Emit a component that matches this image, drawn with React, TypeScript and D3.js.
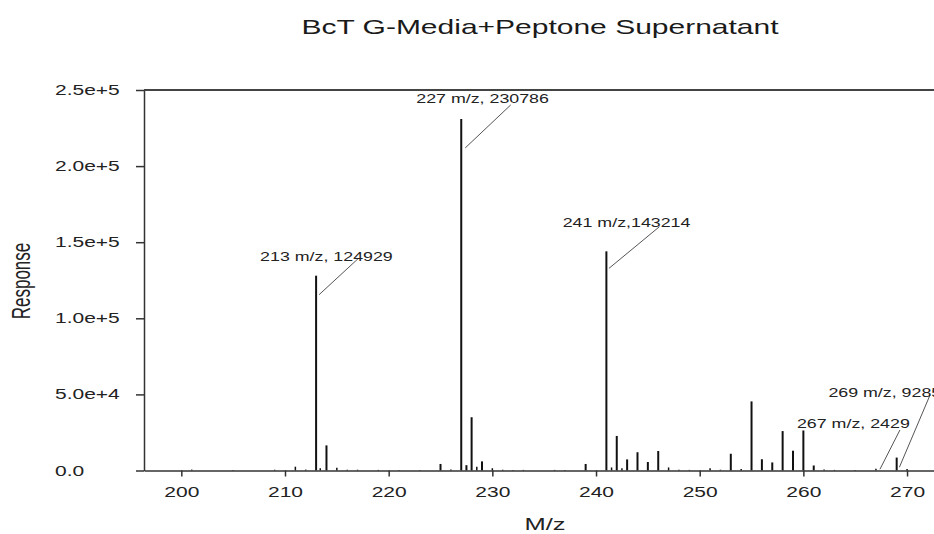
import { useEffect, useRef } from "react";
import * as d3 from "d3";

// peak list (m/z, response)
const mz = [
  201, 205, 209, 211, 212, 213, 213.4, 214, 215, 216, 217, 219, 221, 223, 225, 226,
  227, 227.5, 228, 228.5, 229, 230, 231, 232, 233, 236, 237, 239,
  241, 241.5, 242, 242.5, 243, 244, 245, 246, 247, 248, 249, 251, 252, 253, 254,
  255, 256, 257, 258, 259, 260, 261, 262, 263, 265, 267, 269, 270,
];
const response = [
  600, 400, 500, 2500, 600, 128000, 1500, 16500, 1800, 500, 500, 400, 400, 400, 4300, 600,
  231000, 3500, 35000, 2500, 6000, 1500, 500, 400, 400, 400, 400, 4300,
  144000, 2000, 22700, 1500, 7300, 12000, 5600, 12800, 2000, 500, 400, 1500, 500, 11000, 1000,
  45400, 7400, 5300, 25900, 13000, 26300, 3300, 600, 400, 300, 1200, 8500, 1000,
];

const xTicks = [200, 210, 220, 230, 240, 250, 260, 270];
const yTicks = [0, 50000, 100000, 150000, 200000, 250000];
const yTickLabels = ["0.0", "5.0e+4", "1.0e+5", "1.5e+5", "2.0e+5", "2.5e+5"];

const annotMz = [213, 227, 241, 267, 269];
const annotText = ["213 m/z, 124929", "227 m/z, 230786", "241 m/z,143214", "267 m/z, 2429", "269 m/z, 9285"];

const W = 934;
const H = 534;
const FONT = '"Liberation Sans", Arial, Helvetica, sans-serif';
const SX = 1.5; // the original figure is stretched horizontally

// label placement relative to the peak top (px)
const LAYOUT: Record<number, { tx: number; ty: number; x1: number; y1: number; x2: number; y2: number }> = {
  213: { tx: -56, ty: -15, x1: 42, y1: -17, x2: 3, y2: 19 },
  227: { tx: -45, ty: -16, x1: 49.5, y1: -14, x2: 4, y2: 29 },
  241: { tx: -43.7, ty: -24.6, x1: 53, y1: -24.6, x2: 2.6, y2: 17 },
  267: { tx: -79, ty: -40.4, x1: 24, y1: -38.7, x2: 4, y2: 0.6 },
  269: { tx: -68.3, ty: -60.3, x1: 33.4, y1: -62.6, x2: 2.7, y2: 9.7 },
};

export default function App() {
  const ref = useRef<SVGSVGElement>(null);

  useEffect(() => {
    const el = ref.current;
    if (!el) return;
    document.body.style.margin = "0";

    const svg = d3.select(el);
    svg.selectAll("*").remove();

    const x = d3.scaleLinear().domain([196.4, 272.6]).range([144, 934]);
    const y = d3.scaleLinear().domain([0, 250000]).range([470.5, 90]);

    // Title
    svg.append("text")
      .attr("transform", `translate(540,34) scale(${SX},1)`)
      .attr("text-anchor", "middle")
      .attr("font-family", FONT)
      .attr("font-size", 20)
      .attr("fill", "#1a1a1a")
      .text("BcT G-Media+Peptone Supernatant");

    // Top frame line
    svg.append("line")
      .attr("x1", x.range()[0]).attr("x2", x.range()[1])
      .attr("y1", y(250000)).attr("y2", y(250000))
      .attr("stroke", "#444").attr("stroke-width", 2);

    // Peaks
    const peaks = mz.map((m, i) => ({ m, v: response[i] }));
    svg.selectAll(".peak")
      .data(peaks).join("line").attr("class", "peak")
      .attr("x1", (d) => x(d.m)).attr("x2", (d) => x(d.m))
      .attr("y1", y(0)).attr("y2", (d) => y(d.v))
      .attr("stroke", "#111")
      .attr("stroke-width", (d) => (d.v > 3000 ? 2 : 1.5));

    // Left axis
    svg.append("g")
      .attr("transform", `translate(${x.range()[0]},0)`)
      .call(d3.axisLeft(y).tickValues(yTicks).tickSize(8).tickSizeOuter(0).tickFormat(() => ""))
      .call((g) => g.select(".domain").attr("stroke", "#333").attr("stroke-width", 1.5))
      .call((g) => g.selectAll(".tick line").attr("stroke", "#333").attr("stroke-width", 1.5));

    svg.selectAll(".ylab")
      .data(yTicks).join("text").attr("class", "ylab")
      .attr("transform", (d) => `translate(55,${y(d) + 5}) scale(${SX},1)`)
      .attr("font-family", FONT)
      .attr("font-size", 14)
      .attr("fill", "#222")
      .text((d, i) => yTickLabels[i]);

    // Bottom axis
    svg.append("g")
      .attr("transform", `translate(0,${y(0)})`)
      .call(d3.axisBottom(x).tickValues(xTicks).tickSize(6).tickSizeOuter(0).tickFormat(d3.format("d")))
      .call((g) => g.select(".domain").attr("stroke", "#333").attr("stroke-width", 1.5))
      .call((g) => g.selectAll(".tick line").attr("stroke", "#333").attr("stroke-width", 1.5))
      .call((g) =>
        g.selectAll(".tick text")
          .attr("y", 0).attr("dy", 0)
          .attr("transform", `translate(0,26.5) scale(${SX},1)`)
          .attr("font-family", FONT)
          .attr("font-size", 14)
          .attr("fill", "#222")
      );

    // Axis titles
    svg.append("text")
      .attr("transform", `translate(545,530) scale(${SX},1)`)
      .attr("text-anchor", "middle")
      .attr("font-family", FONT)
      .attr("font-size", 17)
      .attr("fill", "#222")
      .text("M/z");

    svg.append("text")
      .attr("transform", `translate(30,281) scale(${SX},1) rotate(-90)`)
      .attr("text-anchor", "middle")
      .attr("font-family", FONT)
      .attr("font-size", 17)
      .attr("fill", "#222")
      .text("Response");

    // Annotations
    annotMz.forEach((m, i) => {
      const v = response[mz.indexOf(m)];
      const px = x(m);
      const py = y(v);
      const L = LAYOUT[m];
      svg.append("line")
        .attr("x1", px + L.x1).attr("y1", py + L.y1)
        .attr("x2", px + L.x2).attr("y2", py + L.y2)
        .attr("stroke", "#555").attr("stroke-width", 1);
      svg.append("text")
        .attr("transform", `translate(${px + L.tx},${py + L.ty}) scale(1.32,1)`)
        .attr("font-family", FONT)
        .attr("font-size", 13.5)
        .attr("fill", "#222")
        .text(annotText[i]);
    });
  }, []);

  return <svg ref={ref} width={W} height={H} style={{ display: "block", background: "#fff" }} />;
}
